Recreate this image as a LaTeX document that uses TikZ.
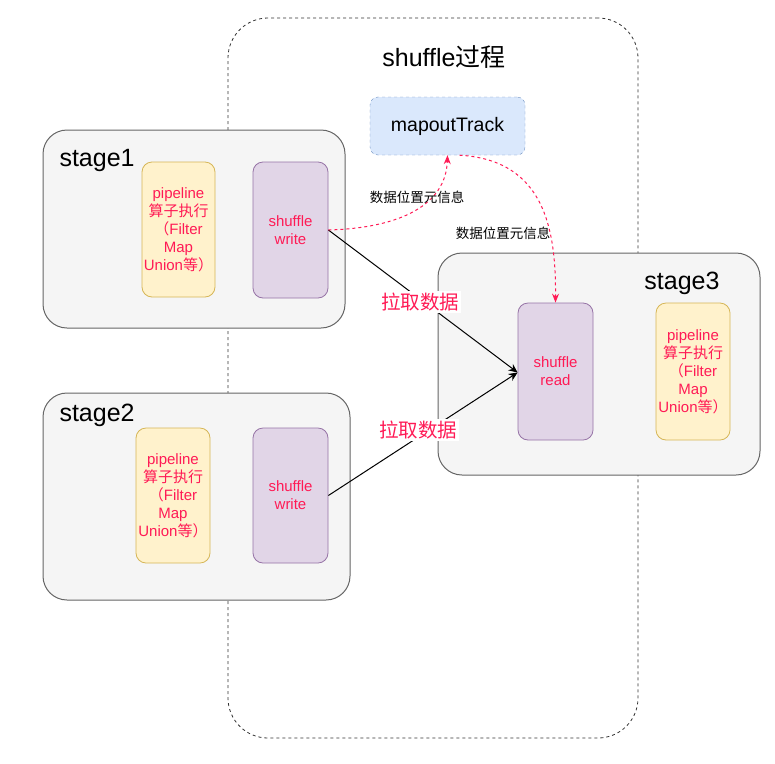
\documentclass[tikz,border=0pt]{standalone}
\usepackage{fontspec}
\setmainfont{Liberation Sans}
\newfontfamily\cjk{Noto Sans CJK SC}
\usetikzlibrary{arrows.meta}
\definecolor{redtxt}{HTML}{FF1A55}
\definecolor{stagefill}{HTML}{F5F5F5}
\definecolor{stageline}{HTML}{666666}
\definecolor{pipefill}{HTML}{FFF2CC}
\definecolor{pipeline}{HTML}{D6B656}
\definecolor{shfill}{HTML}{E1D5E7}
\definecolor{shline}{HTML}{9673A6}
\definecolor{mapfill}{HTML}{DAE8FC}
\definecolor{mapline}{HTML}{6C8EBF}
\begin{document}
\begin{tikzpicture}[x=1pt,y=-1pt,
  stagebox/.style={draw=stageline,fill=stagefill,rounded corners=24pt,line width=1pt},
  pipebox/.style={draw=pipeline,fill=pipefill,rounded corners=10pt,line width=0.8pt,text=redtxt,align=center,inner sep=1pt,font=\fontsize{15}{18}\selectfont},
  shbox/.style={draw=shline,fill=shfill,rounded corners=10pt,line width=0.8pt,text=redtxt,align=center,font=\fontsize{15}{18}\selectfont},
  stagelabel/.style={font=\fontsize{25}{29}\selectfont,anchor=west},
  pullarrow/.style={draw=black,line width=1pt,-{Stealth[length=9pt,width=8pt,inset=3pt]}},
  pulllabel/.style={fill=white,text=redtxt,inner sep=2pt,font=\cjk\fontsize{19.5}{23}\selectfont},
  infoarrow/.style={draw=redtxt,line width=1pt,dash pattern=on 3pt off 3pt,-{Stealth[length=9pt,width=7pt,inset=3pt]}},
  infolabel/.style={font=\cjk\fontsize{13.5}{16}\selectfont,text=black}
]
\useasboundingbox (0,0) rectangle (775,763);
% big dashed region
\node[draw=black!80,dashed,rounded corners=40pt,minimum width=410pt,minimum height=720pt,line width=0.8pt] (region) at (433,378) {};
\node[font=\fontsize{25}{29}\selectfont] (title) at (444,57) {shuffle{\cjk 过程}};
% mapoutTrack
\node[draw=mapline,fill=mapfill,dashed,rounded corners=8pt,minimum width=155pt,minimum height=58pt,font=\fontsize{19.5}{23}\selectfont] (map) at (447.5,126) {mapoutTrack};
% stage1
\node[stagebox,minimum width=302pt,minimum height=198pt] (s1) at (194,229) {};
\node[stagelabel] (s1t) at (56,160) {stage1};
\node[pipebox,minimum width=73pt,minimum height=135pt] (p1) at (178.5,229.5) {pipeline\\{\cjk 算子执行}\\{\cjk （}Filter\\Map\\Union{\cjk 等）}};
\node[shbox,minimum width=75pt,minimum height=136pt] (w1) at (290.5,230) {shuffle\\write};
% stage2
\node[stagebox,minimum width=307pt,minimum height=207pt] (s2) at (196.5,496.5) {};
\node[stagelabel] (s2t) at (56,415) {stage2};
\node[pipebox,minimum width=74pt,minimum height=135pt] (p2) at (173,495.5) {pipeline\\{\cjk 算子执行}\\{\cjk （}Filter\\Map\\Union{\cjk 等）}};
\node[shbox,minimum width=75pt,minimum height=135pt] (w2) at (290.5,495.5) {shuffle\\write};
% stage3
\node[stagebox,minimum width=322pt,minimum height=222pt] (s3) at (599,364) {};
\node[stagelabel,anchor=east] (s3t) at (723,283) {stage3};
\node[shbox,minimum width=75pt,minimum height=137pt] (rd) at (555.5,371.5) {shuffle\\read};
\node[pipebox,minimum width=74pt,minimum height=137pt] (p3) at (693,371.5) {pipeline\\{\cjk 算子执行}\\{\cjk （}Filter\\Map\\Union{\cjk 等）}};
% pull arrows
\coordinate (rdin) at ([yshift=-1pt]rd.west);
\draw[pullarrow] (w1.east) -- (rdin);
\draw[pullarrow] (w2.east) -- (rdin);
\node[pulllabel] (l1) at (420,302) {拉取数据};
\node[pulllabel] (l2) at (418,430) {拉取数据};
% info arrows
\coordinate (mapin) at ([xshift=0pt]map.south);
\coordinate (mapout) at ([xshift=12pt]map.south);
\draw[infoarrow] (w1.east) .. controls (400,228) and (446,205) .. (mapin);
\draw[infoarrow] (mapout) .. controls (545,160) and (556,230) .. (rd.north);
\node[infolabel] (i1) at (417,197) {数据位置元信息};
\node[infolabel] (i2) at (503,233) {数据位置元信息};
\end{tikzpicture}
\end{document}
